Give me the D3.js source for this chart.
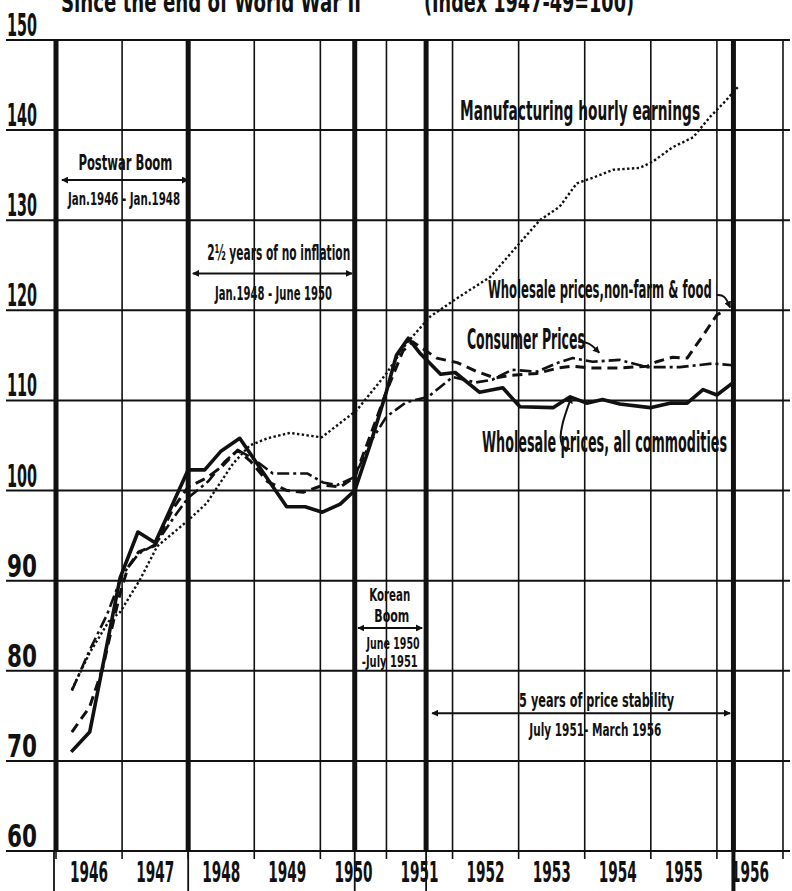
<!DOCTYPE html>
<html>
<head>
<meta charset="utf-8">
<script src="https://cdn.jsdelivr.net/npm/d3@7"></script>
<style>
body { margin: 0; background: #fff; }
svg { display: block; }
text { font-family: "Liberation Sans Narrow", "DejaVu Sans Condensed", "Roboto", sans-serif; font-weight: bold; fill: #111; }
</style>
</head>
<body>
<div id="container"></div>
<script>
// year columns and index ticks
const years = [1946, 1947, 1948, 1949, 1950, 1951, 1952, 1953, 1954, 1955, 1956];
const yTicks = [60, 70, 80, 90, 100, 110, 120, 130, 140, 150];
// heavy rules marking the periods (Jan 1946, Jan 1948, June 1950, July 1951, March 1956)
const periodLines = [1946, 1948, 1950.52, 1951.6, 1956.25];

// [time in years, index 1947-49=100]
const wpiAll = [[1946.23,71.0],[1946.51,73.2],[1946.97,90.3],[1947.24,95.4],[1947.5,94.2],[1948.0,102.3],[1948.25,102.3],[1948.5,104.4],[1948.78,105.8],[1949.49,98.2],[1949.77,98.2],[1950.03,97.6],[1950.3,98.5],[1950.52,100.0],[1950.75,105.0],[1951.0,111.0],[1951.15,115.0],[1951.33,116.9],[1951.5,115.3],[1951.66,114.1],[1951.82,112.9],[1952.04,113.1],[1952.41,110.9],[1952.76,111.4],[1953.02,109.3],[1953.52,109.2],[1953.78,110.4],[1954.03,109.7],[1954.27,110.1],[1954.53,109.6],[1954.99,109.2],[1955.29,109.7],[1955.55,109.7],[1955.79,111.2],[1956.0,110.6],[1956.23,111.9]];
const wpiNonFarm = [[1946.24,73.2],[1946.51,76.0],[1946.71,80.4],[1946.85,84.9],[1946.97,88.6],[1947.09,91.5],[1947.25,93.2],[1947.5,93.9],[1947.77,98.0],[1948.0,100.4],[1948.28,101.4],[1948.53,102.8],[1948.75,104.5],[1948.95,103.2],[1949.2,101.0],[1949.5,100.0],[1949.74,99.8],[1950.04,100.6],[1950.3,100.4],[1950.52,101.5],[1950.75,106.0],[1951.0,111.0],[1951.25,115.5],[1951.4,116.5],[1951.76,114.7],[1952.07,114.2],[1952.37,113.2],[1952.64,112.5],[1952.9,112.8],[1953.28,113.0],[1953.6,113.6],[1953.8,113.8],[1954.1,113.6],[1954.5,113.6],[1954.95,113.8],[1955.09,114.3],[1955.33,114.8],[1955.55,114.7],[1955.77,117.0],[1956.0,119.5],[1956.12,120.0]];
const consumer = [[1946.24,77.8],[1946.51,82.3],[1946.77,86.2],[1947.0,90.6],[1947.25,93.0],[1947.5,94.0],[1947.83,97.5],[1948.0,99.2],[1948.3,101.0],[1948.55,103.2],[1948.75,104.5],[1948.97,103.6],[1949.28,101.9],[1949.8,101.9],[1950.04,100.9],[1950.25,100.6],[1950.52,101.5],[1950.75,105.3],[1951.0,108.2],[1951.3,109.8],[1951.63,110.4],[1952.0,112.6],[1952.35,112.0],[1952.6,112.3],[1952.9,113.4],[1953.28,113.2],[1953.6,114.2],[1953.82,114.7],[1954.12,114.3],[1954.53,114.5],[1954.94,113.7],[1955.44,113.7],[1955.94,114.1],[1956.24,113.9]];
const mfgEarnings = [[1946.24,77.9],[1946.51,82.0],[1946.8,85.5],[1946.97,86.5],[1947.27,90.1],[1947.53,93.8],[1948.0,96.7],[1948.28,98.6],[1948.68,103.0],[1948.93,105.0],[1949.2,105.8],[1949.54,106.4],[1950.02,105.9],[1950.3,107.5],[1950.55,108.9],[1951.0,113.0],[1951.3,116.3],[1951.66,119.3],[1952.1,121.5],[1952.57,123.7],[1953.02,127.5],[1953.32,130.0],[1953.62,131.5],[1953.88,134.1],[1954.12,134.7],[1954.43,135.6],[1954.83,135.8],[1955.03,136.5],[1955.33,138.1],[1955.64,139.2],[1955.9,141.5],[1956.1,143.0],[1956.32,144.8]];

const w = 792;
const h = 891;
const svg = d3.select("#container").append("svg").attr("width", w).attr("height", h);

const xScale = d3.scaleLinear().domain([1946, 1957]).range([56, 783]);
const yScale = d3.scaleLinear().domain([60, 150]).range([851, 40]);

const defs = svg.append("defs");
defs.append("marker").attr("id", "head")
    .attr("viewBox", "0 0 10 10").attr("refX", 9).attr("refY", 5)
    .attr("markerWidth", 7).attr("markerHeight", 7).attr("markerUnits", "userSpaceOnUse")
    .attr("orient", "auto-start-reverse")
  .append("path").attr("d", "M0,0 L10,5 L0,10 z").attr("fill", "#111");

// title, cut off by the top edge like the scan
svg.append("text").attr("x", 61).attr("y", 12).attr("font-size", 28)
    .attr("textLength", 300).attr("lengthAdjust", "spacingAndGlyphs").text("Since the end of World War II");
svg.append("text").attr("x", 424).attr("y", 12).attr("font-size", 28)
    .attr("textLength", 210).attr("lengthAdjust", "spacingAndGlyphs").text("(Index 1947-49=100)");

const grid = svg.append("g").attr("stroke", "#111");

// horizontal rules, running out under the labels
grid.selectAll(".hline").data(yTicks).enter().append("line")
    .attr("x1", 6).attr("x2", 790)
    .attr("y1", d => yScale(d)).attr("y2", d => yScale(d))
    .attr("stroke-width", 2);

// year rules
const bounds = years.concat([1957]);
grid.selectAll(".vline").data(bounds).enter().append("line")
    .attr("x1", d => xScale(d)).attr("x2", d => xScale(d))
    .attr("y1", yScale(150)).attr("y2", yScale(60) + 8)
    .attr("stroke-width", 1.6);

// heavy period rules
grid.selectAll(".period").data(periodLines).enter().append("line")
    .attr("x1", d => xScale(d)).attr("x2", d => xScale(d))
    .attr("y1", yScale(150) - 1).attr("y2", yScale(60))
    .attr("stroke-width", 5);
grid.selectAll(".periodTail").data(periodLines).enter().append("line")
    .attr("x1", (d, i) => xScale(d) - (i == 0 ? 2 : 0)).attr("x2", (d, i) => xScale(d) - (i == 0 ? 2 : 0))
    .attr("y1", yScale(60)).attr("y2", h)
    .attr("stroke-width", (d, i) => i == periodLines.length - 1 ? 4 : 1.8);

// y labels sit on top of their rule
svg.selectAll(".ylab").data(yTicks).enter().append("text")
    .attr("x", 7).attr("y", d => yScale(d) - 4)
    .attr("font-size", 32)
    .attr("textLength", 30).attr("lengthAdjust", "spacingAndGlyphs")
    .text(d => d);

// year labels centred in their columns
svg.selectAll(".xlab").data(years).enter().append("text")
    .attr("x", d => xScale(d + 0.5)).attr("y", 882)
    .attr("text-anchor", "middle").attr("font-size", 29)
    .attr("textLength", 38).attr("lengthAdjust", "spacingAndGlyphs")
    .text(d => d);

// series
const line = d3.line().x(d => xScale(d[0])).y(d => yScale(d[1]));
const series = [
  { data: mfgEarnings, width: 2.4, dash: "2.4,2.4" },
  { data: consumer, width: 2.6, dash: "12,4,3,4" },
  { data: wpiNonFarm, width: 3, dash: "10,6" },
  { data: wpiAll, width: 3.6, dash: null }
];
svg.selectAll(".series").data(series).enter().append("path")
    .attr("d", d => line(d.data))
    .attr("fill", "none").attr("stroke", "#111")
    .attr("stroke-width", d => d.width)
    .attr("stroke-dasharray", d => d.dash)
    .attr("stroke-linejoin", "round");

// text notes
function note(txt, t, v, size, len) {
  return svg.append("text").attr("x", xScale(t)).attr("y", yScale(v))
      .attr("text-anchor", "middle").attr("font-size", size)
      .attr("textLength", len).attr("lengthAdjust", "spacingAndGlyphs").text(txt);
}
function span(t1, t2, v) {
  svg.append("line").attr("x1", xScale(t1)).attr("x2", xScale(t2))
      .attr("y1", yScale(v)).attr("y2", yScale(v))
      .attr("stroke", "#111").attr("stroke-width", 2)
      .attr("marker-start", "url(#head)").attr("marker-end", "url(#head)");
}

note("Postwar Boom", 1947.05, 135.6, 22, 94);
span(1946.09, 1948.0, 134.46);
note("Jan.1946 - Jan.1948", 1947.03, 131.7, 18, 112);

note("2\u00bd years of no inflation", 1949.37, 125.6, 21, 143);
span(1948.07, 1950.48, 124.1);
note("Jan.1948 - June 1950", 1949.29, 121.15, 19, 117);

note("Korean", 1951.05, 87.7, 18, 41);
note("Boom", 1951.08, 85.4, 18, 35);
span(1950.57, 1951.54, 84.75);
note("June 1950", 1951.1, 82.4, 16, 53);
note("-July 1951", 1951.05, 80.4, 16, 56);

note("5 years of price stability", 1954.18, 76.0, 20, 155);
span(1951.69, 1956.2, 75.3);
note("July 1951- March 1956", 1954.16, 72.8, 18, 132);

note("Manufacturing hourly earnings", 1953.93, 141.1, 26, 240);
note("Wholesale prices,non-farm & food", 1954.23, 121.4, 25, 224);
note("Consumer Prices", 1953.11, 115.7, 29, 118);
note("Wholesale prices, all commodities", 1954.3, 104.3, 28, 245);

// curved pointers from the labels to their lines
const pointers = [
  [[1956.0, 121.7], [1956.12, 121.7], [1956.2, 120.3]],
  [[1953.9, 116.5], [1954.06, 116.5], [1954.22, 115.3]],
  [[1953.78, 104.6], [1953.63, 104.8], [1953.63, 107.0], [1953.8, 110.4]]
];
const curve = d3.line().x(d => xScale(d[0])).y(d => yScale(d[1])).curve(d3.curveBasis);
svg.selectAll(".pointer").data(pointers).enter().append("path")
    .attr("d", d => curve(d))
    .attr("fill", "none").attr("stroke", "#111").attr("stroke-width", 2)
    .attr("marker-end", "url(#head)");
</script>
</body>
</html>
